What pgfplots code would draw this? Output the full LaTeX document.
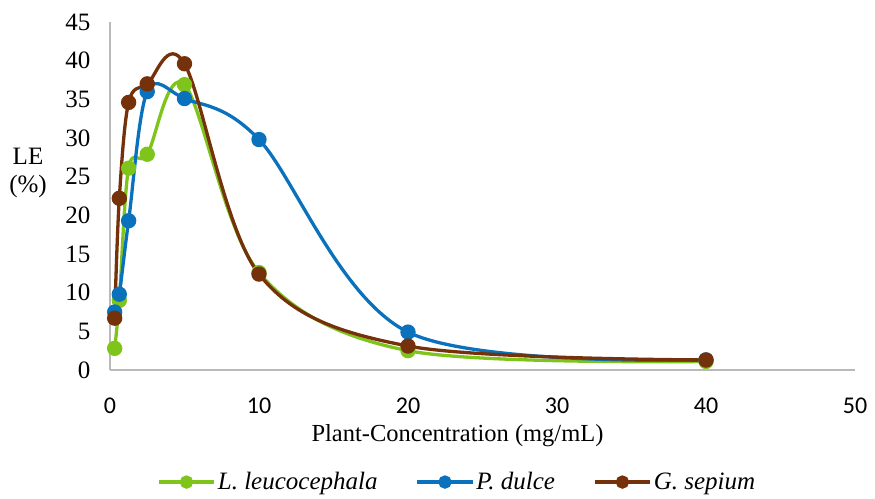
\documentclass[border=0pt]{standalone}
\usepackage{pgfplots}
\pgfplotsset{compat=1.18}
\usepackage{fontspec}
\setmainfont{Liberation Serif}
\newfontfamily\calibri{Carlito}

\definecolor{leuc}{HTML}{7EC41A}
\definecolor{dulce}{HTML}{0A72BC}
\definecolor{sepium}{HTML}{74310A}

\begin{document}
\begin{tikzpicture}
\begin{axis}[
    scale only axis,
    width=745pt, height=348pt,
    xmin=0, xmax=50, ymin=0, ymax=45,
    xtick={0,10,...,50},
    ytick={0,5,...,45},
    axis x line*=bottom, axis y line*=left,
    axis line style={gray!55, line width=1.8pt},
    major tick length=0pt,
    /pgf/number format/assume math mode=true,
    tick label style={font=\fontsize{25}{27}\selectfont},
    xticklabel style={font=\fontsize{24}{26}\selectfont\calibri, yshift=-24pt},
    yticklabel style={xshift=-16pt},
    xlabel={Plant-Concentration (mg/mL)},
    xlabel style={font=\fontsize{24.5}{27}\selectfont, yshift=-4pt, xshift=-25pt},
    legend columns=3,
    legend style={draw=none, at={(0.466,-0.322)}, anchor=center,
        font=\fontsize{25}{27}\selectfont\itshape,
        /tikz/every even column/.append style={column sep=36pt}},
    legend image code/.code={
        \draw[#1, mark=none] (0cm,0cm) -- (1.95cm,0cm);
        \draw[#1, only marks, mark size=5pt] plot coordinates {(0.975cm,0cm)};
    },
    every axis plot/.append style={line width=3.3pt, smooth, tension=0.55,
        mark=*, mark size=6pt,
        mark options={line width=1.3pt, draw=white}},
    clip=false,
]
\addplot[leuc, mark options={fill=leuc}] coordinates {
    (0.3125, 2.8) (0.625, 9.0) (1.25, 26.1) (2.5, 27.9)
    (5, 36.9) (10, 12.6) (20, 2.5) (40, 1.1)
};
\addplot[dulce, mark options={fill=dulce}] coordinates {
    (0.3125, 7.5) (0.625, 9.8) (1.25, 19.3) (2.5, 36.0)
    (5, 35.1) (10, 29.8) (20, 4.9) (40, 1.3)
};
\addplot[sepium, mark options={fill=sepium}] coordinates {
    (0.3125, 6.7) (0.625, 22.2) (1.25, 34.6) (2.5, 37.0)
    (5, 39.6) (10, 12.4) (20, 3.1) (40, 1.3)
};
\legend{L. leucocephala, P. dulce, G. sepium}
\node[font=\fontsize{25}{28}\selectfont, align=center] at ([xshift=-82pt]rel axis cs:0,0.565) {LE\\(\%)};
\path ([xshift=-110pt, yshift=-128pt]rel axis cs:0,0) rectangle ([xshift=20pt, yshift=22pt]rel axis cs:1,1);
\end{axis}
\end{tikzpicture}
\end{document}
